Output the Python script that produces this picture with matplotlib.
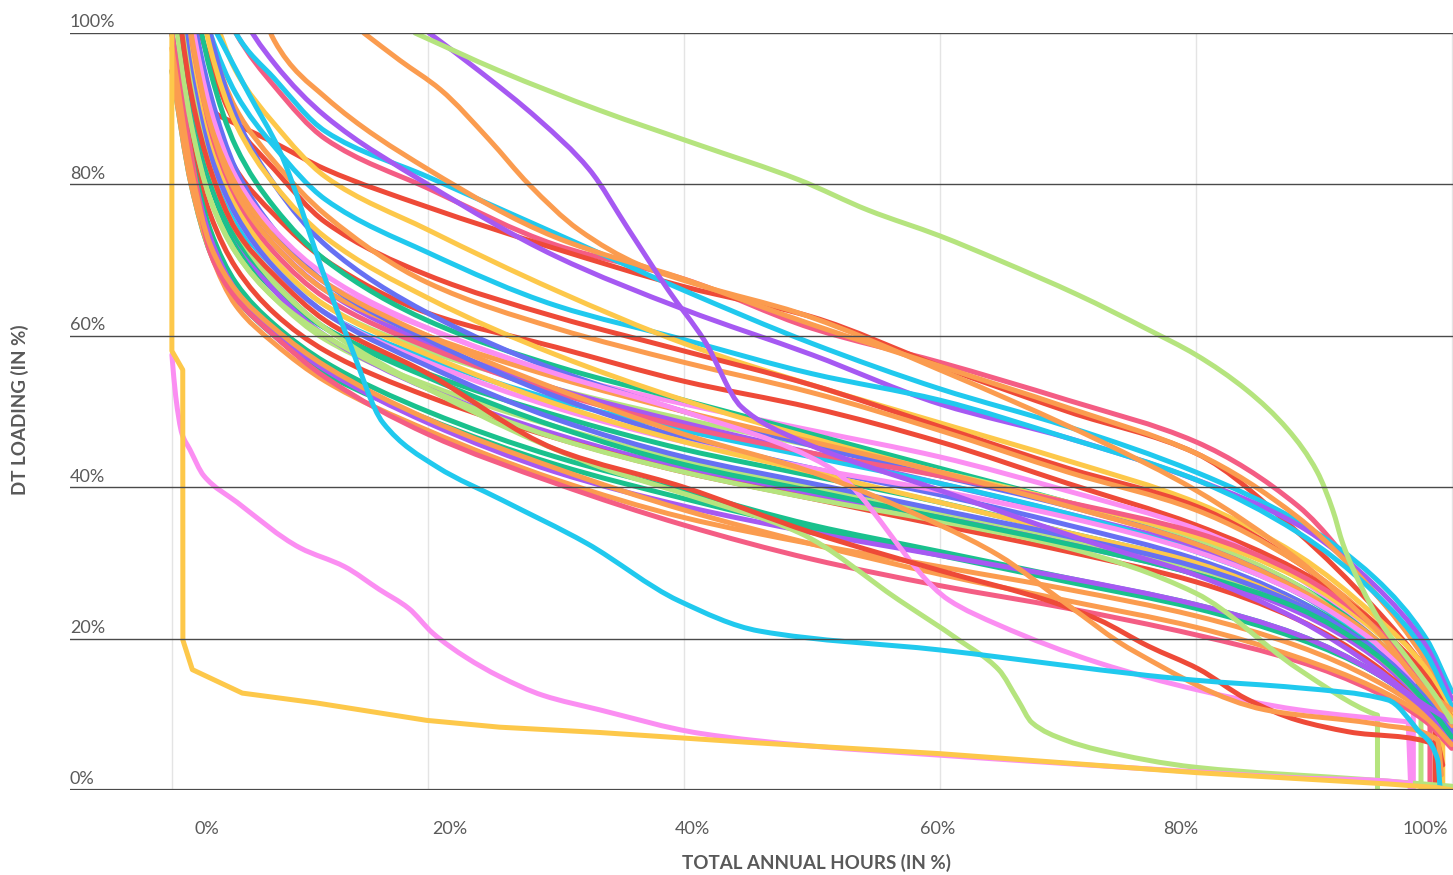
import matplotlib
matplotlib.use("Agg")
import numpy as np
import matplotlib.pyplot as plt
from matplotlib.path import Path
from matplotlib.patches import PathPatch

plt.rcParams['font.family'] = ['Lato', 'DejaVu Sans']

# colours used by the series
pal = {
    'pinkred': '#f45d84',
    'red': '#ee4a38',
    'orange': '#fb9c4f',
    'yellow': '#fdc84a',
    'lime': '#b5e47e',
    'green': '#1ac18d',
    'cyan': '#20c9ee',
    'blue': '#6670f3',
    'purple': '#a659f2',
    'pink': '#fb8ef2',
}

# common x grid (total annual hours, %) for the main bundle of transformers
hours = [0, 1.5, 3, 5, 8, 12, 20, 30, 40, 50, 60, 70, 80, 88, 94, 98, 100]

bundle_colors = ['pinkred', 'red', 'cyan', 'purple', 'orange', 'cyan', 'yellow', 'red', 'orange', 'red',
                 'pink', 'green', 'lime', 'blue', 'purple', 'yellow', 'cyan', 'pinkred', 'orange', 'green',
                 'blue', 'pink', 'lime', 'purple', 'yellow', 'red', 'green', 'green', 'orange', 'purple',
                 'pinkred', 'orange', 'lime', 'blue', 'green']

bundle_loading = [
    [130, 118, 108, 100, 93, 86, 79.5, 72, 67.5, 61, 56.5, 51.5, 46, 37.5, 26, 18, 11],
    [130, 98, 90, 88, 85.5, 82, 77, 71.5, 66.5, 62.5, 56, 50, 44.5, 34, 24, 16, 11],
    [140, 125, 110, 100, 94, 87, 81, 73.5, 66, 59, 53, 48, 42, 35.5, 28, 20, 13],
    [150, 130, 115, 104, 96, 89, 80, 70.5, 63.5, 57.5, 51, 46.5, 41, 35, 27, 19, 12],
    [200, 180, 150, 120, 99, 91.5, 82, 73, 67.5, 61.5, 56, 50.5, 44.5, 36, 26, 17, 10.5],
    [125, 110, 100, 92, 85, 78, 71, 64, 59.5, 55, 51.5, 46.5, 41, 34, 26, 18, 11],
    [130, 115, 104, 95, 88, 81, 74, 66, 59, 53.5, 48.5, 43.5, 38, 31, 23, 16, 10],
    [120, 105, 96, 88, 82, 75, 68, 62.5, 58, 53.5, 48, 42.5, 37.5, 30, 22, 15, 9.5],
    [125, 110, 99, 90, 83, 76, 67, 61, 56.5, 52.5, 47.5, 42, 37, 30, 22, 14, 9],
    [115, 100, 90, 82, 76, 70, 63, 58.5, 54, 50.5, 46, 40.5, 35, 29, 22, 14, 9],
    [120, 100, 89, 80, 73, 67, 61, 55, 51, 47.5, 44, 39.5, 34.5, 28, 20, 13, 8],
    [130, 108, 95, 85, 77, 70, 62, 56, 51.5, 47, 42.5, 38, 33, 27, 20, 13, 8],
    [110, 95, 85, 77, 70, 64, 58, 53, 49, 45.5, 42, 38, 33, 27, 19, 12, 7.5],
    [140, 115, 100, 89, 80, 72, 63, 55.5, 50, 45.5, 41.5, 37.5, 32.5, 26.5, 19.5, 13, 8.5],
    [120, 100, 88, 79, 72, 66, 59, 53, 48.5, 44.5, 40.5, 36.5, 32, 26, 19, 12.5, 8],
    [135, 112, 98, 88, 80, 73, 65, 57.5, 51.5, 46.5, 42, 38, 33.5, 28, 21, 14, 9.5],
    [105, 92, 83, 75, 69, 63, 57, 51.5, 47.5, 44, 40.5, 36.5, 31.5, 26, 19, 12, 7],
    [115, 98, 87, 78, 71, 65, 58.5, 52.5, 48, 44.5, 41.5, 38, 34, 28.5, 21.5, 14, 9],
    [118, 100, 88, 79, 72, 66, 60, 54.5, 50, 46, 42, 37.5, 32.5, 26.5, 20, 13, 8.5],
    [105, 90, 80, 72, 66, 61, 55, 49.5, 45, 41.5, 38, 34, 30, 25, 18.5, 12, 7],
    [125, 104, 92, 82, 74, 67, 59.5, 52, 46.5, 42.5, 39, 35, 30.5, 25, 18, 11.5, 7.5],
    [110, 95, 84, 76, 69, 63, 56.5, 50.5, 46, 42.5, 39.5, 36, 31.5, 26, 19.5, 13, 8],
    [100, 87, 78, 71, 65, 59.5, 53.5, 48, 43.5, 40, 36.5, 33, 29, 24, 18, 12, 7],
    [110, 92, 81, 73, 66, 60, 53, 47, 42.5, 39, 36, 32.5, 28.5, 23.5, 17.5, 11, 6.5],
    [112, 96, 85, 77, 70, 64, 57.5, 51, 46, 42, 38, 34, 30, 24.5, 18, 11.5, 7],
    [100, 85, 76, 69, 63, 58, 52, 46.5, 42, 38.5, 35, 31.5, 27.5, 22.5, 16.5, 10.5, 6.5],
    [100, 84, 74, 67, 61.5, 56.5, 50, 44, 39.5, 35, 31.5, 28, 24.5, 20.5, 15.5, 10.5, 6.5],
    [95, 80, 71, 65, 60, 55, 49, 43, 38.5, 34.5, 31, 27.5, 24, 20, 15.5, 10.5, 6.5],
    [95, 80, 71, 64, 59, 54, 47.5, 41, 36, 32.5, 29.5, 26.5, 23, 19, 14.5, 10, 6],
    [100, 83, 73, 66, 60.5, 55.5, 48.5, 42, 37.5, 34, 31, 28, 24.5, 20.5, 15.5, 10.5, 6.5],
    [100, 84, 71, 65, 60, 54.5, 47, 40.5, 35, 30.5, 27, 24, 20.5, 17, 13, 9, 5.5],
    [98, 82, 72, 66, 61, 56, 49, 42.5, 37, 32.5, 28.5, 25, 21.5, 17.5, 13.5, 9.5, 6],
    [105, 88, 78, 71, 65, 60, 53, 46.5, 42, 38.5, 35.5, 32, 26, 16, 10, 8, 6],
    [115, 95, 84, 76, 69, 63, 56, 49, 44, 40.5, 37, 33.5, 29.5, 24.5, 18.5, 12, 7.5],
    [110, 92, 81, 73, 67, 61, 54.5, 48, 43, 39.5, 36, 32.5, 28.5, 24, 18, 11.5, 7],
]

# hour (%) where a curve falls straight to zero, None = runs to the end
bundle_drop = [None, None, None, None, None, None, None, None, None, None,
               None, None, 97.6, None, None, None, None, 98.3, None, None,
               None, 97.0, None, None, 99.3, 98.7, None, None, None, None,
               None, None, 94.2, None, None]

# curves that stand apart from the bundle
lime_top_x = [19, 25.6, 33.4, 41.2, 49, 54.4, 60, 64.6, 70.8, 76.3, 80, 84, 87.2, 89.5, 90.7, 91.5, 92.9, 94.5, 96.5, 98.9, 100]
lime_top_y = [100, 95, 89.8, 85.2, 80.6, 76.6, 73.2, 70, 65.4, 60.8, 57.5, 52.8, 47.6, 42, 37, 32.5, 27, 22, 17.5, 12, 9]

purple_steep_x = [20.1, 24, 28.7, 32.6, 35.7, 38.8, 41.6, 44.5, 49, 60, 72.4, 80, 88, 94.2, 97.3, 100]
purple_steep_y = [100, 95, 88.5, 82, 74, 66, 59.4, 50.6, 46.2, 39.6, 32.4, 28.4, 22.5, 15.9, 11.9, 9]

orange_late_x = [15, 17.8, 21, 24.8, 27.9, 31.8, 36.5, 41.2, 49, 60, 72.4, 80, 88, 94.2, 98, 100]
orange_late_y = [100, 96.4, 92.5, 85.9, 80, 74, 69.4, 66.7, 63, 55.5, 46.2, 39.6, 30.4, 21, 13.2, 10.6]

cyan_low_x = [3.5, 6, 8.4, 12.1, 13.9, 16.5, 20.7, 25.8, 32.4, 39.6, 45.9, 60, 80, 88, 95, 97.3, 98.9, 99.1]
cyan_low_y = [100, 92, 84.5, 67, 59, 48.5, 42.7, 38.3, 32.6, 25, 21, 18.5, 14.5, 13.5, 11.9, 8, 4, 0]

pink_low_x = [0, 0.3, 0.8, 1.4, 2.5, 5.1, 10, 13.5, 16.2, 18.5, 20.4, 23, 25.6, 29, 33.4, 41.2, 50, 60, 80, 88, 96.6, 96.8]
pink_low_y = [57.5, 52, 47, 45, 41.5, 38, 32, 29.5, 26.5, 24, 20.7, 17.5, 15, 12.5, 10.6, 7.5, 5.8, 4.6, 2.4, 1.6, 0.9, 0]

yellow_low_x = [0, 0, 0.85, 0.86, 1.6, 5.5, 11.3, 19.9, 25.6, 33.4, 45, 60, 80, 95, 99, 100]
yellow_low_y = [100, 58, 55.5, 19.8, 15.9, 12.8, 11.5, 9.2, 8.3, 7.6, 6.3, 4.8, 2.3, 0.8, 0.3, 0]

lime_drop_x = [0, 1.5, 3, 5, 8, 12, 20, 33.4, 39.9, 49, 56.8, 61.5, 64.6, 66.1, 67.2, 69.8, 72.4, 80, 94, 100]
lime_drop_y = [110, 93, 82, 74, 67, 61, 53, 42.7, 39.2, 34, 25.1, 19.8, 15.9, 11.9, 8.9, 6.6, 5.3, 3, 1.3, 0.5]

pink_drop_x = [0, 1.5, 3, 5, 8, 12, 20, 30, 40, 51.3, 60.7, 64.6, 72.4, 80.2, 88, 96.6]
pink_drop_y = [120, 102, 90, 81, 74, 68, 61, 55, 50, 42.7, 25.1, 21.8, 16.8, 13.2, 10.6, 9]

red_drop_x = [0, 1.5, 3, 5, 8, 12, 20, 30, 40, 50, 60, 68.5, 72.4, 76.3, 80.2, 84, 88, 91.9, 98.9, 99.3]
red_drop_y = [110, 92, 82, 74, 68, 62, 55, 45, 40, 34, 29, 25, 22.5, 19, 16, 12, 9.2, 7.7, 5.9, 3.3]

orange_drop_x = [0, 1.5, 3, 5, 8, 12, 20, 30, 40, 50, 60, 64.6, 69.8, 75, 85.4, 94.5, 98.9, 99.2]
orange_drop_y = [120, 100, 88, 80, 73, 67, 60, 53, 47, 42, 35, 31, 24.7, 18.5, 10.6, 8.6, 6.6, 2]

# (x, y, colour, hour where it falls to zero)
specials = [
    (lime_drop_x, lime_drop_y, 'lime', None),
    (pink_drop_x, pink_drop_y, 'pink', 96.8),
    (red_drop_x, red_drop_y, 'red', None),
    (orange_drop_x, orange_drop_y, 'orange', None),
    (orange_late_x, orange_late_y, 'orange', None),
    (purple_steep_x, purple_steep_y, 'purple', None),
    (lime_top_x, lime_top_y, 'lime', None),
    (cyan_low_x, cyan_low_y, 'cyan', None),
    (pink_low_x, pink_low_y, 'pink', None),
]

y_ticks = [0, 20, 40, 60, 80, 100]
x_grid = [0, 20, 40, 60, 80, 100]
x_labels = ['0%', '20%', '40%', '60%', '80%', '100%']
x_label_at = [2.7, 21.7, 40.7, 59.8, 78.8, 97.9]  # labels sit off the grid lines in the original


def smooth_path(xs, ys, drop=None):
    # monotone cubic (Fritsch-Carlson) through the read points, drawn as bezier segments
    x = np.asarray(xs, float)
    y = np.asarray(ys, float)
    h = np.diff(x)
    d = np.diff(y) / h
    m = np.zeros_like(y)
    m[0], m[-1] = d[0], d[-1]
    for i in range(1, len(x) - 1):
        if d[i - 1] * d[i] <= 0:
            m[i] = 0
        else:
            w1 = 2 * h[i] + h[i - 1]
            w2 = h[i] + 2 * h[i - 1]
            m[i] = (w1 + w2) / (w1 / d[i - 1] + w2 / d[i])
    verts = [(x[0], y[0])]
    codes = [Path.MOVETO]
    for i in range(len(x) - 1):
        if drop is not None and x[i] >= drop:
            break
        x1 = x[i + 1]
        y1 = y[i + 1]
        if drop is not None and x1 > drop:
            # straight piece to the drop point
            verts.append((drop, np.interp(drop, x, y)))
            codes.append(Path.LINETO)
            break
        verts += [(x[i] + h[i] / 3, y[i] + m[i] * h[i] / 3),
                  (x1 - h[i] / 3, y1 - m[i + 1] * h[i] / 3),
                  (x1, y1)]
        codes += [Path.CURVE4] * 3
    if drop is not None:
        verts.append((drop, 0))
        codes.append(Path.LINETO)
    return Path(verts, codes)


W, H = 1453, 875
fig = plt.figure(figsize=(W / 100, H / 100), dpi=100)
ax = fig.add_axes([70 / W, (H - 790) / H, (W - 70) / W, (790 - 33) / H])
ax.set_xlim(-7.96, 100.1)
ax.set_ylim(0, 100)
for s in ax.spines.values():
    s.set_visible(False)

for gx in x_grid:
    ax.axvline(gx, color='#e4e4e4', lw=1, zorder=0)
for gy in y_ticks:
    ax.axhline(gy, color='#4a4a4a', lw=1.6 if gy == 0 else 1.0, zorder=5)
    ax.annotate(f'{gy}%', xy=(0, gy), xycoords=('axes fraction', 'data'),
                xytext=(0, 4), textcoords='offset points', ha='left', va='baseline',
                fontsize=13, color='#5a5a5a')

lw = 3.6
style = dict(fill=False, lw=lw, capstyle='round', joinstyle='round')
for vals, cname, drop in zip(bundle_loading, bundle_colors, bundle_drop):
    ax.add_patch(PathPatch(smooth_path(hours, vals, drop), edgecolor=pal[cname], zorder=2, **style))

for xs, ys, cname, drop in specials:
    ax.add_patch(PathPatch(smooth_path(xs, ys, drop), edgecolor=pal[cname], zorder=3, **style))

# the near-empty transformer has vertical steps, keep it straight-lined
ax.plot(yellow_low_x, yellow_low_y, color=pal['yellow'], lw=lw, solid_joinstyle='round', zorder=3)

ax.set_xticks(x_label_at)
ax.set_xticklabels(x_labels, fontsize=13, color='#5a5a5a')
ax.set_yticks([])
ax.tick_params(axis='x', length=0, pad=22)

fig.text(816 / W, 1 - 863 / H, 'TOTAL ANNUAL HOURS (IN %)', ha='center', va='center',
         fontsize=13.5, fontweight='bold', color='#595959')
fig.text(20 / W, 1 - 410 / H, 'DT LOADING (IN %)', ha='center', va='center', rotation=90,
         fontsize=13.5, fontweight='bold', color='#595959')

fig.savefig('out.png', dpi=100)
